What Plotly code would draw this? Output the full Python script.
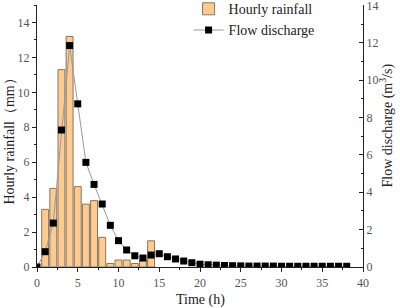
import plotly.graph_objects as go

hours_rain = list(range(1, 15))
rainfall = [3.3, 4.5, 11.3, 13.2, 4.6, 3.6, 3.8, 1.7, 0.2, 0.4, 0.4, 0.2, 0.4, 1.5]

hours_flow = list(range(0, 39))
discharge = [0.0, 0.82, 2.35, 7.33, 11.85, 8.73, 5.6, 4.42, 3.37, 2.23, 1.41, 0.91,
             0.6, 0.48, 0.64, 0.71, 0.55, 0.43, 0.32, 0.23, 0.15, 0.12, 0.1, 0.08,
             0.07, 0.06, 0.05, 0.05, 0.05, 0.05, 0.04, 0.04, 0.04, 0.04, 0.04, 0.04,
             0.04, 0.04, 0.04]

FONT = "Liberation Serif"
TITLE_FONT = dict(family=FONT, size=14, color="#222")

fig = go.Figure()
fig.add_trace(go.Bar(
    x=hours_rain, y=rainfall, name="Hourly rainfall", width=0.85,
    marker=dict(color="#FBCB8F", line=dict(color="#8a7560", width=1)),
    yaxis="y"))
fig.add_trace(go.Scatter(
    x=hours_flow, y=discharge, name="Flow discharge", mode="lines+markers",
    line=dict(color="#9a9a9a", width=1),
    marker=dict(symbol="square", size=7, color="black"),
    yaxis="y2"))

axis_common = dict(showgrid=False, zeroline=False, showline=True, linecolor="#222",
                   linewidth=1.2, tickfont=dict(family=FONT, size=12, color="#555"),
                   ticklen=4, tickcolor="#222", automargin=False, ticklabeloverflow="allow")

fig.update_layout(
    width=400, height=308,
    margin=dict(l=37, r=37, t=5, b=41, autoexpand=False),
    paper_bgcolor="white", plot_bgcolor="white",
    font=dict(family=FONT, color="#222"),
    xaxis=dict(range=[0, 40], tickvals=[0, 5, 10, 15, 20, 25, 30, 35, 40],
               ticks="outside", minor=dict(dtick=2.5, ticks="outside", ticklen=2, tickcolor="#222"),
               **axis_common),
    yaxis=dict(range=[0, 15], tickvals=[0, 2, 4, 6, 8, 10, 12, 14], ticks="outside",
               minor=dict(dtick=1, ticks="outside", ticklen=2, tickcolor="#222"),
               **axis_common),
    yaxis2=dict(range=[0, 14.02], tickvals=[0, 2, 4, 6, 8, 10, 12, 14], ticks="inside",
                minor=dict(dtick=1, ticks="inside", ticklen=2, tickcolor="#222"),
                overlaying="y", side="right",
                **axis_common),
    legend=dict(x=0.465, y=1.045, xanchor="left", yanchor="top",
                bgcolor="rgba(0,0,0,0)", font=dict(family=FONT, size=14, color="#222"),
                tracegroupgap=0, itemwidth=30),
    showlegend=True,
    annotations=[
        dict(text="Time (h)", xref="paper", yref="paper", x=0.5, y=0, yshift=-33,
             xanchor="center", yanchor="middle", showarrow=False, font=TITLE_FONT),
        dict(text="Hourly rainfall（mm）", xref="paper", yref="paper", x=0, xshift=-27,
             y=0.49, xanchor="center", yanchor="middle", textangle=-90,
             showarrow=False, font=TITLE_FONT),
        dict(text="Flow discharge (m<sup>3</sup>/s)", xref="paper", yref="paper", x=1, xshift=24,
             y=0.54, xanchor="center", yanchor="middle", textangle=-90,
             showarrow=False, font=TITLE_FONT),
    ],
)

fig.write_html("out.html", config={"displayModeBar": False},
               post_script="document.body.style.margin='0';document.body.style.overflow='hidden';")
